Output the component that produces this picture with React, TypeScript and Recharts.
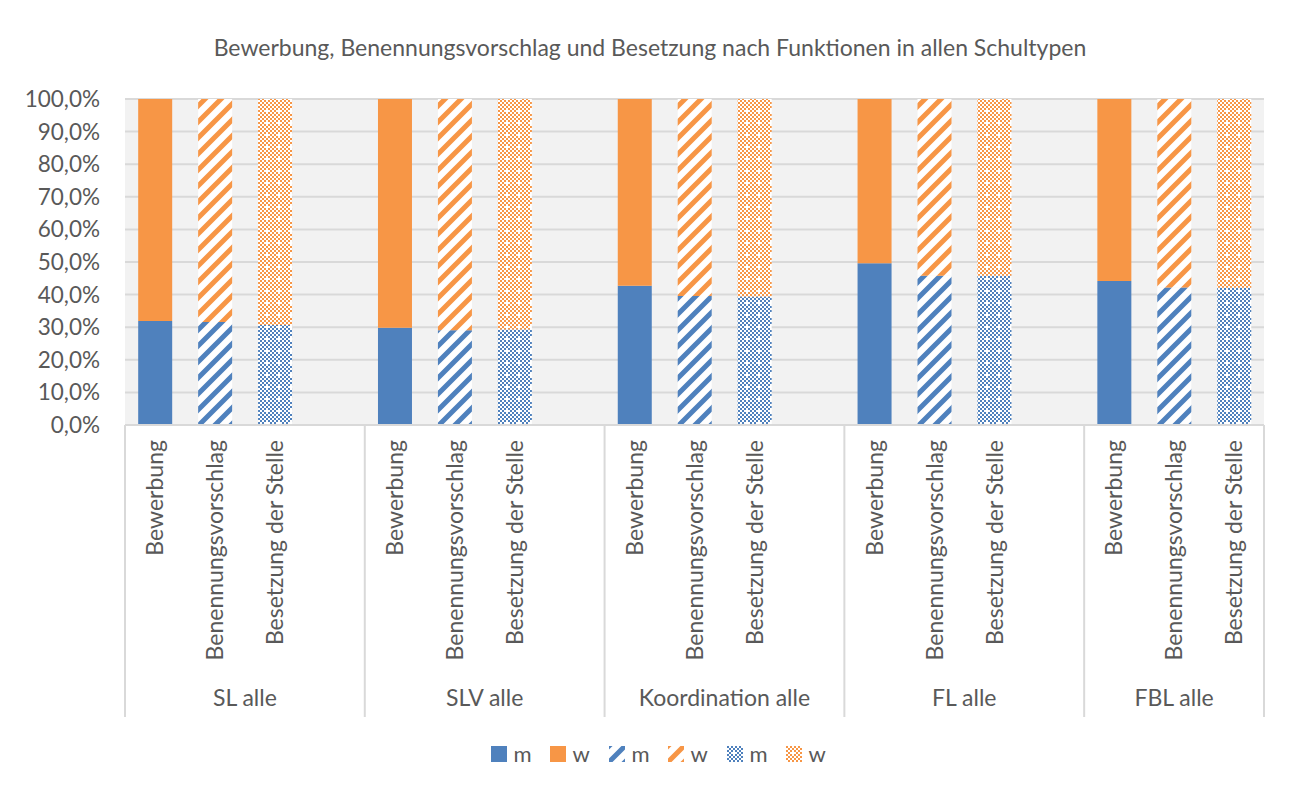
import React from "react";
import { BarChart, Bar, XAxis, YAxis, CartesianGrid } from "recharts";

const FONT = "Lato, 'Noto Sans', sans-serif";
const WEIGHT = 400;
const TEXT = "#595959";
const BLUE = "#4f81bd";
const ORANGE = "#f79646";
const GRID = "#d9d9d9";

const TITLE = "Bewerbung, Benennungsvorschlag und Besetzung nach Funktionen in allen Schultypen";
const groups = ["SL alle", "SLV alle", "Koordination alle", "FL alle", "FBL alle"];
const categories = ["Bewerbung", "Benennungsvorschlag", "Besetzung der Stelle"];

const bewerbungM = [31.9, 29.8, 42.7, 49.6, 44.2];
const bewerbungW = [68.1, 70.2, 57.3, 50.4, 55.8];
const benennungM = [31.6, 29.1, 39.6, 45.8, 42.2];
const benennungW = [68.4, 70.9, 60.4, 54.2, 57.8];
const besetzungM = [30.7, 29.3, 39.4, 45.8, 42.1];
const besetzungW = [69.3, 70.7, 60.6, 54.2, 57.9];

const yTicks = [0, 10, 20, 30, 40, 50, 60, 70, 80, 90, 100];

const legendItems = [
  { label: "m", fill: BLUE },
  { label: "w", fill: ORANGE },
  { label: "m", fill: "url(#hatchBlue)" },
  { label: "w", fill: "url(#hatchOrange)" },
  { label: "m", fill: "url(#dotBlue)" },
  { label: "w", fill: "url(#dotOrange)" },
];

type Row = { cat: string; [k: string]: any };
const rows: Row[] = [];
groups.forEach((g, i) => {
  const last = i === groups.length - 1;
  const slots = last ? 3 : 4;
  rows.push({ cat: categories[0], group: g, groupStart: true, slots, m1: bewerbungM[i], w1: bewerbungW[i] });
  rows.push({ cat: categories[1], group: g, m2: benennungM[i], w2: benennungW[i] });
  rows.push({ cat: categories[2], group: g, m3: besetzungM[i], w3: besetzungW[i], groupEnd: last });
  if (!last) rows.push({ cat: "", group: g });
});

const fmtPct = (v: number) => `${v.toFixed(1).replace(".", ",")}%`;

function Hatch({ id, color }: { id: string; color: string }) {
  return (
    <pattern id={id} patternUnits="userSpaceOnUse" width={16} height={16}>
      <rect width={16} height={16} fill="#fff" />
      <path d="M0,16 L16,0 M-4,4 L4,-4 M12,20 L20,12" stroke={color} strokeWidth={5} />
    </pattern>
  );
}

function Dots({ id, color }: { id: string; color: string }) {
  const cells: React.ReactNode[] = [];
  for (let i = 0; i < 6; i++) {
    for (let j = 0; j < 6; j++) {
      if ((i + j) % 2 === 0 && !(i === 3 && j === 3)) {
        cells.push(<rect key={`${i}-${j}`} x={i * 2} y={j * 2} width={2} height={2} fill={color} />);
      }
    }
  }
  return (
    <pattern id={id} patternUnits="userSpaceOnUse" width={12} height={12}>
      <rect width={12} height={12} fill="#fff" />
      {cells}
    </pattern>
  );
}

const AXIS_DEPTH = 292;

const CatTick = (props: any) => {
  const { x, y, payload, index } = props;
  const row = rows[index] || {};
  const h = payload && typeof payload.offset === "number" && payload.offset > 0 ? payload.offset : 30;
  return (
    <g>
      {payload.value ? (
        <text
          transform={`translate(${x},${y}) rotate(-90)`}
          x={-15}
          y={0}
          dy="0.36em"
          textAnchor="end"
          fill={TEXT}
          fontSize={23}
          fontWeight={WEIGHT}
          fontFamily={FONT}
        >
          {payload.value}
        </text>
      ) : null}
      {row.groupStart ? (
        <>
          <line x1={x - h} x2={x - h} y1={y} y2={y + AXIS_DEPTH} stroke={GRID} strokeWidth={2} />
          <text
            x={x + (row.slots - 1) * h}
            y={y + 273}
            dy="0.36em"
            textAnchor="middle"
            fill={TEXT}
            fontSize={23}
            fontWeight={WEIGHT}
            fontFamily={FONT}
          >
            {row.group}
          </text>
        </>
      ) : null}
      {row.groupEnd ? (
        <line x1={x + h} x2={x + h} y1={y} y2={y + AXIS_DEPTH} stroke={GRID} strokeWidth={2} />
      ) : null}
    </g>
  );
};

export default function App() {
  return (
    <div
      style={{
        position: "relative",
        width: 1300,
        height: 800,
        borderLeft: `1px solid ${GRID}`,
        borderTop: `1px solid ${GRID}`,
        marginLeft: -1,
        marginTop: -1,
        background: "#fff",
        fontFamily: FONT,
        fontWeight: WEIGHT,
      }}
    >
      <svg width={0} height={0} style={{ position: "absolute" }}>
        <defs>
          <Hatch id="hatchBlue" color={BLUE} />
          <Hatch id="hatchOrange" color={ORANGE} />
          <Dots id="dotBlue" color={BLUE} />
          <Dots id="dotOrange" color={ORANGE} />
        </defs>
      </svg>
      <div
        style={{
          position: "absolute",
          left: 0,
          width: 1284,
          top: 25,
          textAlign: "center",
          fontSize: 23,
          color: TEXT,
          lineHeight: "28px",
        }}
      >
        {TITLE}
      </div>
      <BarChart
        width={1276}
        height={780}
        data={rows}
        margin={{ top: 91, right: 20, bottom: 71, left: 0 }}
        barCategoryGap="22%"
      >
        <CartesianGrid vertical={false} stroke={GRID} strokeWidth={2} fill="#f2f2f2" />
        <YAxis
          domain={[0, 100]}
          ticks={yTicks}
          tickFormatter={fmtPct}
          width={117}
          axisLine={false}
          tickLine={false}
          tickSize={0}
          tickMargin={25}
          interval={0}
          tick={{ fill: TEXT, fontSize: 22.5, fontFamily: FONT, fontWeight: WEIGHT }}
        />
        <XAxis
          dataKey="cat"
          height={AXIS_DEPTH}
          interval={0}
          tickLine={false}
          tickSize={0}
          tickMargin={0}
          axisLine={{ stroke: GRID, strokeWidth: 2 }}
          tick={<CatTick />}
        />
        <Bar dataKey="m1" stackId="a" fill={BLUE} isAnimationActive={false} />
        <Bar dataKey="w1" stackId="a" fill={ORANGE} isAnimationActive={false} />
        <Bar dataKey="m2" stackId="a" fill="url(#hatchBlue)" isAnimationActive={false} />
        <Bar dataKey="w2" stackId="a" fill="url(#hatchOrange)" isAnimationActive={false} />
        <Bar dataKey="m3" stackId="a" fill="url(#dotBlue)" isAnimationActive={false} />
        <Bar dataKey="w3" stackId="a" fill="url(#dotOrange)" isAnimationActive={false} />
      </BarChart>
      <div
        style={{
          position: "absolute",
          left: 12,
          width: 1276,
          top: 733,
          display: "flex",
          justifyContent: "center",
          alignItems: "center",
          gap: 19,
          fontSize: 22,
          color: TEXT,
        }}
      >
        {legendItems.map((it, i) => (
          <div key={i} style={{ display: "flex", alignItems: "center", gap: 7 }}>
            <svg width={16} height={16}>
              <rect width={16} height={16} fill={it.fill} />
            </svg>
            <span style={{ lineHeight: "26px", display: "inline-block", width: 17 }}>{it.label}</span>
          </div>
        ))}
      </div>
    </div>
  );
}
